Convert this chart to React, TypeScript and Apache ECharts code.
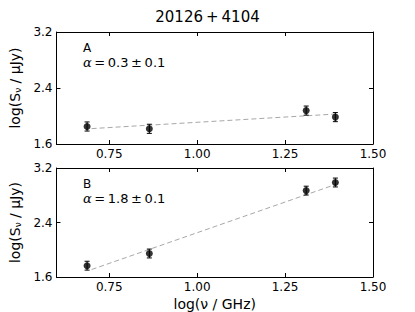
import React, { useEffect, useRef } from "react";
import * as echarts from "echarts";

const title = "20126\u2009+\u20094104";
const xTicks = [0.75, 1.0, 1.25, 1.5];
const logNu = [0.687, 0.864, 1.31, 1.393];
const logSA = [1.85, 1.817, 2.077, 1.984];
const logSB = [1.766, 1.945, 2.868, 2.987];
const errA = [0.065, 0.065, 0.065, 0.065];
const errB = [0.065, 0.065, 0.065, 0.065];
const fitX = [0.7, 1.4];
const fitA = [1.82, 2.03];
const fitB = [1.71, 2.97];
const labelA = "A";
const labelB = "B";
const alphaA = "0.3";
const alphaB = "1.8";
const alphaErr = "0.1";

const FONT = "DejaVu Sans";

export default function App() {
  const ref = useRef<HTMLDivElement>(null);
  useEffect(() => {
    document.body.style.margin = "0";
    const chart = echarts.init(ref.current!, null, { renderer: "svg" });
    const grids = [
      { left: 52, top: 32, width: 321, height: 112 },
      { left: 52, top: 168, width: 321, height: 113 },
    ];
    const xAxes: any[] = [];
    const yAxes: any[] = [];
    grids.forEach((g, gi) => {
      const base = {
        gridIndex: gi,
        type: "value",
        min: 0.6,
        max: 1.5,
        splitLine: { show: false },
        axisLine: { show: true, onZero: false, lineStyle: { color: "#000", width: 1 } },
        axisTick: { show: true, inside: true, length: 4, customValues: xTicks, lineStyle: { color: "#000" } },
      };
      xAxes.push({
        ...base,
        position: "bottom",
        axisLabel: {
          show: true,
          customValues: xTicks,
          formatter: (v: number) => v.toFixed(2),
          color: "#000",
          fontFamily: FONT,
          fontSize: 12,
          margin: 4,
        },
        name: gi === 1 ? "log(\u03bd / GHz)" : "",
        nameLocation: "middle",
        nameGap: 20,
        nameTextStyle: { color: "#000", fontFamily: FONT, fontSize: 14 },
      });
      xAxes.push({ ...base, position: "top", axisLabel: { show: false } });
      const ybase = {
        gridIndex: gi,
        type: "value",
        min: 1.6,
        max: 3.2,
        interval: 0.8,
        splitLine: { show: false },
        axisLine: { show: true, onZero: false, lineStyle: { color: "#000", width: 1 } },
        axisTick: { show: true, inside: true, length: 4, lineStyle: { color: "#000" } },
      };
      yAxes.push({
        ...ybase,
        position: "left",
        axisLabel: {
          show: true,
          formatter: (v: number) => v.toFixed(1),
          color: "#000",
          fontFamily: FONT,
          fontSize: 12,
          margin: 4,
        },
        name: "log(S{sub|\u03bd} / \u03bcJy)",
        nameLocation: "middle",
        nameRotate: 90,
        nameGap: 25,
        nameTextStyle: {
          color: "#000",
          fontFamily: FONT,
          fontSize: 14,
          rich: {
            sub: { fontSize: 9, fontFamily: FONT, color: "#000", padding: [6, 0, 0, 0] },
          },
        },
      });
      yAxes.push({ ...ybase, position: "right", axisLabel: { show: false } });
    });

    const errSeries = (xi: number, vals: number[], errs: number[]) => ({
      type: "custom",
      xAxisIndex: xi,
      yAxisIndex: xi,
      data: logNu.map((x, i) => [x, vals[i], errs[i]]),
      encode: { x: 0, y: 1 },
      silent: true,
      z: 3,
      renderItem: (_p: any, api: any) => {
        const x = api.value(0);
        const y = api.value(1);
        const e = api.value(2);
        const t = api.coord([x, y + e]);
        const b = api.coord([x, y - e]);
        const c = 2.5;
        const st = { stroke: "#000", lineWidth: 1 };
        return {
          type: "group",
          children: [
            { type: "line", shape: { x1: t[0], y1: t[1], x2: b[0], y2: b[1] }, style: st },
            { type: "line", shape: { x1: t[0] - c, y1: t[1], x2: t[0] + c, y2: t[1] }, style: st },
            { type: "line", shape: { x1: b[0] - c, y1: b[1], x2: b[0] + c, y2: b[1] }, style: st },
          ],
        };
      },
    });
    const fitSeries = (xi: number, vals: number[]) => ({
      type: "line",
      xAxisIndex: xi,
      yAxisIndex: xi,
      data: fitX.map((x, i) => [x, vals[i]]),
      symbol: "none",
      lineStyle: { color: "#a8a8a8", width: 1, type: [5, 3] },
      z: 2,
    });
    const ptSeries = (xi: number, vals: number[]) => ({
      type: "scatter",
      xAxisIndex: xi,
      yAxisIndex: xi,
      data: logNu.map((x, i) => [x, vals[i]]),
      symbol: "circle",
      symbolSize: 7,
      itemStyle: { color: "#000" },
      z: 4,
    });

    const labelText = (top: number, label: string) => ({
      type: "text",
      left: 83,
      top,
      style: { text: label, fill: "#000", font: `12px "${FONT}"` },
    });
    const alphaText = (top: number, alpha: string) => ({
      type: "text",
      left: 83,
      top,
      style: {
        text: `{i|\u03b1}\u2009=\u2009${alpha}\u2009\u00b1\u2009${alphaErr}`,
        fill: "#000",
        font: `13px "${FONT}"`,
        rich: {
          i: { fontFamily: "DejaVu Serif", fontStyle: "italic", fontSize: 13, fill: "#000" },
        },
      },
    });

    chart.setOption({
      animation: false,
      title: {
        text: title,
        left: "center",
        top: 4,
        textStyle: { color: "#000", fontFamily: FONT, fontSize: 15, fontWeight: "normal" },
      },
      grid: grids,
      xAxis: xAxes,
      yAxis: yAxes,
      series: [
        fitSeries(0, fitA),
        errSeries(0, logSA, errA),
        ptSeries(0, logSA),
        fitSeries(2, fitB),
        errSeries(2, logSB, errB),
        ptSeries(2, logSB),
      ],
      graphic: [
        labelText(42, labelA),
        alphaText(56, alphaA),
        labelText(178, labelB),
        alphaText(192, alphaB),
      ],
    });
    return () => chart.dispose();
  }, []);
  return <div ref={ref} style={{ width: 415, height: 312 }} />;
}
